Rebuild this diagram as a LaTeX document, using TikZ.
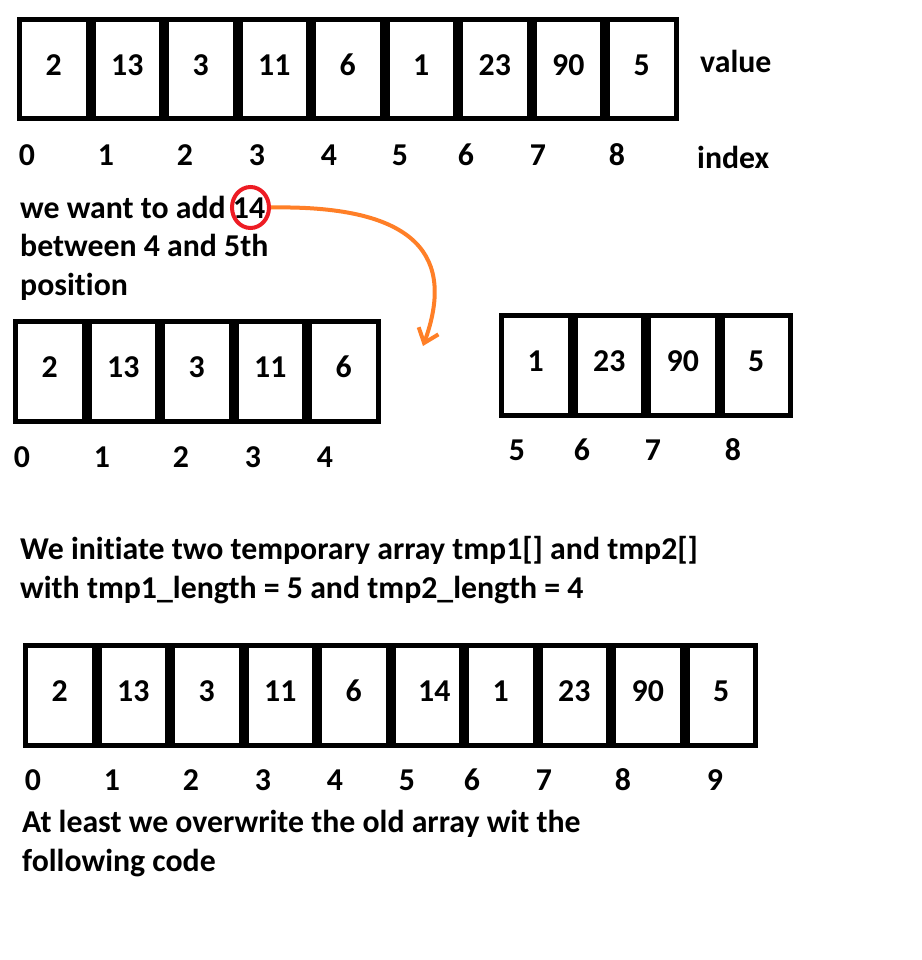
\documentclass[tikz,border=0pt]{standalone}
\usepackage{fontspec}
\setmainfont{Carlito}[Ligatures=NoCommon]
\usepackage{xcolor}
\usepackage{tikz}
\usetikzlibrary{shapes.geometric, arrows.meta, positioning}

\definecolor{paintred}{HTML}{ED1C24}
\definecolor{paintorange}{HTML}{FF7F27}

\begin{document}
\begin{tikzpicture}[x=1pt, y=-1pt]
\tikzstyle{cell} = [rectangle, draw, line width=5pt, minimum width=68.5pt, minimum height=99.5pt, inner sep=0pt, text depth=9pt, font=\bfseries\fontsize{31.8}{38.5}\selectfont]
\tikzstyle{idx} = [anchor=base, inner sep=0pt, font=\bfseries\fontsize{31.8}{38.5}\selectfont]
\tikzstyle{note} = [anchor=base west, inner sep=0pt, align=left, font=\bfseries\fontsize{31.8}{38.5}\selectfont]
\tikzstyle{ring} = [ellipse, draw=paintred, line width=4pt, minimum width=37pt, minimum height=41pt, inner sep=0pt]
\tikzstyle{arrow} = [draw=paintorange, line width=4pt, -{Straight Barb[length=13pt, width=21pt]}]

\useasboundingbox (0,0) rectangle (921,960);

% old array
\node (v0) [cell, anchor=north west] at (17,17) {2};
\node (v1) [cell, right=0pt of v0] {13};
\node (v2) [cell, right=0pt of v1] {3};
\node (v3) [cell, right=0pt of v2] {11};
\node (v4) [cell, right=0pt of v3] {6};
\node (v5) [cell, right=0pt of v4] {1};
\node (v6) [cell, right=0pt of v5] {23};
\node (v7) [cell, right=0pt of v6] {90};
\node (v8) [cell, right=0pt of v7] {5};
\node (value) [note] at (700,73) {value};

\node (i0) [idx] at (27,165) {0};
\node (i1) [idx] at (106,165) {1};
\node (i2) [idx] at (185,165) {2};
\node (i3) [idx] at (257,165) {3};
\node (i4) [idx] at (329,165) {4};
\node (i5) [idx] at (400,165) {5};
\node (i6) [idx] at (466,165) {6};
\node (i7) [idx] at (538,165) {7};
\node (i8) [idx] at (617,165) {8};
\node (index) [note] at (697,168) {index};

% what we want (base = last line)
\node (want) [note] at (20,295) {we want to add 14\\between 4 and 5th\\position};
\node (new) [ring] at (250.5,207.5) {};
\coordinate (tip) at (423,346);
\draw [arrow] (new.east) .. controls (420,205) and (455,258) .. (tip);

% tmp1
\node (a0) [cell, anchor=north west] at (13,319) {2};
\node (a1) [cell, right=0pt of a0] {13};
\node (a2) [cell, right=0pt of a1] {3};
\node (a3) [cell, right=0pt of a2] {11};
\node (a4) [cell, right=0pt of a3] {6};

\node (ai0) [idx] at (22,467) {0};
\node (ai1) [idx] at (102,467) {1};
\node (ai2) [idx] at (181,467) {2};
\node (ai3) [idx] at (253,467) {3};
\node (ai4) [idx] at (325,467) {4};

% tmp2
\node (b0) [cell, anchor=north west] at (499,313) {1};
\node (b1) [cell, right=0pt of b0] {23};
\node (b2) [cell, right=0pt of b1] {90};
\node (b3) [cell, right=0pt of b2] {5};

\node (bi5) [idx] at (517,460) {5};
\node (bi6) [idx] at (582,460) {6};
\node (bi7) [idx] at (653,460) {7};
\node (bi8) [idx] at (733,460) {8};

\node (init) [note] at (20,598) {We initiate two temporary array tmp1[] and tmp2[]\\with tmp1\_length = 5 and tmp2\_length = 4};

% new array
\node (r0) [cell, anchor=north west] at (23,643) {2};
\node (r1) [cell, right=0pt of r0] {13};
\node (r2) [cell, right=0pt of r1] {3};
\node (r3) [cell, right=0pt of r2] {11};
\node (r4) [cell, right=0pt of r3] {6};
\node (r5) [cell, right=0pt of r4] {\hspace*{14pt}14};
\node (r6) [cell, right=0pt of r5] {1};
\node (r7) [cell, right=0pt of r6] {23};
\node (r8) [cell, right=0pt of r7] {90};
\node (r9) [cell, right=0pt of r8] {5};

\node (ri0) [idx] at (33,790) {0};
\node (ri1) [idx] at (112,790) {1};
\node (ri2) [idx] at (191,790) {2};
\node (ri3) [idx] at (263,790) {3};
\node (ri4) [idx] at (335,790) {4};
\node (ri5) [idx] at (407,790) {5};
\node (ri6) [idx] at (472,790) {6};
\node (ri7) [idx] at (544,790) {7};
\node (ri8) [idx] at (623,790) {8};
\node (ri9) [idx] at (715,790) {9};

\node (last) [note] at (22,871) {At least we overwrite the old array wit the\\following code};

\end{tikzpicture}
\end{document}
